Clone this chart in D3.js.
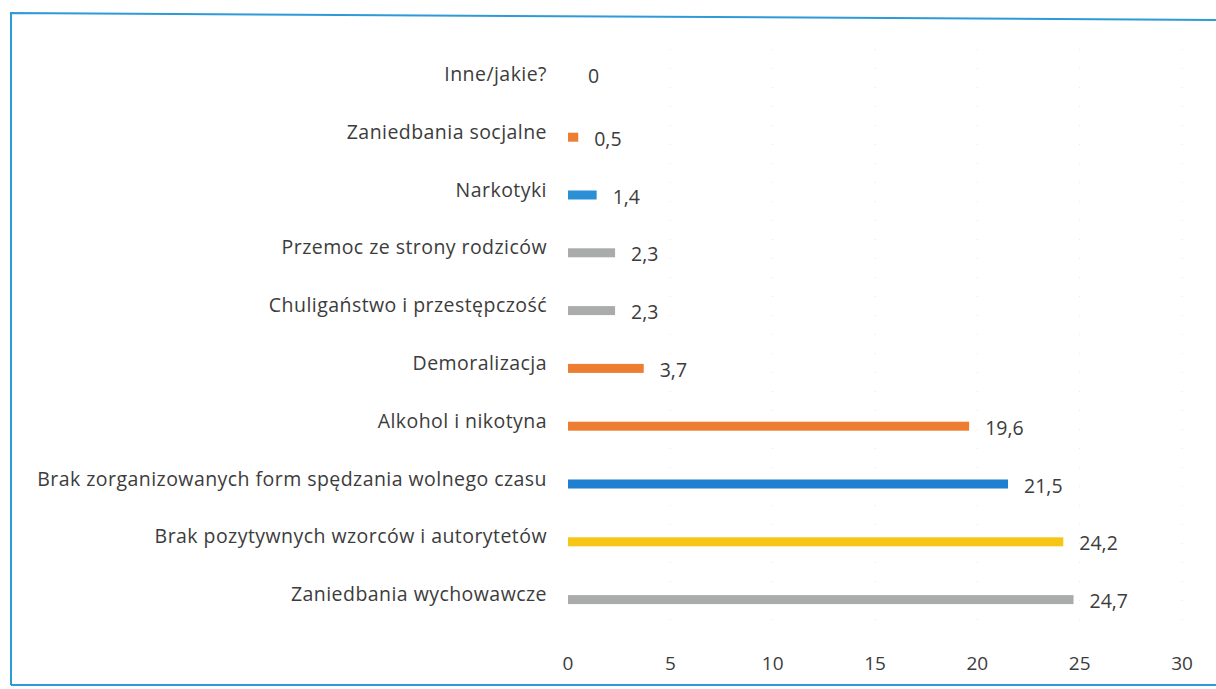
<!DOCTYPE html>
<html>
<head>
<meta charset="utf-8">
<script src="https://cdn.jsdelivr.net/npm/d3@7"></script>
<style>
  body { margin: 0; background: #fff; }
  svg text { font-family: "Open Sans", "Noto Sans", sans-serif; fill: #3c3c3c; }
</style>
</head>
<body>
<div id="chart"></div>
<script>
// categories top -> bottom
var categories = [
  'Inne/jakie?',
  'Zaniedbania socjalne',
  'Narkotyki',
  'Przemoc ze strony rodziców',
  'Chuligaństwo i przestępczość',
  'Demoralizacja',
  'Alkohol i nikotyna',
  'Brak zorganizowanych form spędzania wolnego czasu',
  'Brak pozytywnych wzorców i autorytetów',
  'Zaniedbania wychowawcze'
]
var values = [0, 0.5, 1.4, 2.3, 2.3, 3.7, 19.6, 21.5, 24.2, 24.7]
var barColors = ['#ed7d31', '#ed7d31', '#2b8fd6', '#a9acab', '#a9acab', '#ed7d31', '#ed7d31', '#1f7fd0', '#f7c615', '#a9acab']
var ticks = [0, 5, 10, 15, 20, 25, 30]

var W = 1216, H = 689
var margin = {left: 568, right: 34, top: 49, bottom: 62}

var svg = d3.select('#chart').append('svg').attr('width', W).attr('height', H)

// frame
svg.append('path')
  .attr('d', 'M11,685 L11,13 L1216,20')
  .attr('fill', 'none').attr('stroke', '#2f9ad8').attr('stroke-width', 2)
svg.append('line')
  .attr('x1', 11).attr('x2', 1216).attr('y1', 685).attr('y2', 685)
  .attr('stroke', '#2f9ad8').attr('stroke-width', 2)

var x = d3.scaleLinear().domain([0, 30]).range([margin.left, W - margin.right])
var y = d3.scaleBand().domain(categories).range([margin.top, H - margin.bottom])

// faint dotted gridlines
svg.selectAll('line.grid').data(ticks.slice(1)).join('line')
  .attr('class', 'grid')
  .attr('x1', d => x(d)).attr('x2', d => x(d))
  .attr('y1', margin.top).attr('y2', H - margin.bottom)
  .attr('stroke', '#e6e6e6').attr('stroke-dasharray', '1,18')

// x axis labels
svg.selectAll('text.tick').data(ticks).join('text')
  .attr('class', 'tick')
  .attr('x', d => x(d)).attr('y', 670)
  .attr('text-anchor', 'middle')
  .style('font-size', '19px')
  .text(d => d)

var mid = d => y(d) + y.bandwidth() / 2

// category labels
svg.selectAll('text.cat').data(categories).join('text')
  .attr('class', 'cat')
  .attr('x', 547).attr('y', d => mid(d) + 3)
  .attr('text-anchor', 'end')
  .style('font-size', '19.5px')
  .style('letter-spacing', '0.45px')
  .text(d => d)

var rows = categories.map((c, i) => ({cat: c, v: values[i], color: barColors[i]}))

// bars
svg.selectAll('rect.bar').data(rows.filter(d => d.v > 0)).join('rect')
  .attr('class', 'bar')
  .attr('x', x(0))
  .attr('y', d => mid(d.cat) - 3)
  .attr('width', d => x(d.v) - x(0))
  .attr('height', 9)
  .attr('fill', d => d.color)

// value labels
svg.selectAll('text.val').data(rows).join('text')
  .attr('class', 'val')
  .attr('x', d => x(d.v) + (d.v > 0 ? 16 : 20))
  .attr('y', d => mid(d.cat) + (d.v > 0 ? 10 : 5))
  .style('font-size', '19.5px')
  .text(d => String(d.v).replace('.', ','))
</script>
</body>
</html>
